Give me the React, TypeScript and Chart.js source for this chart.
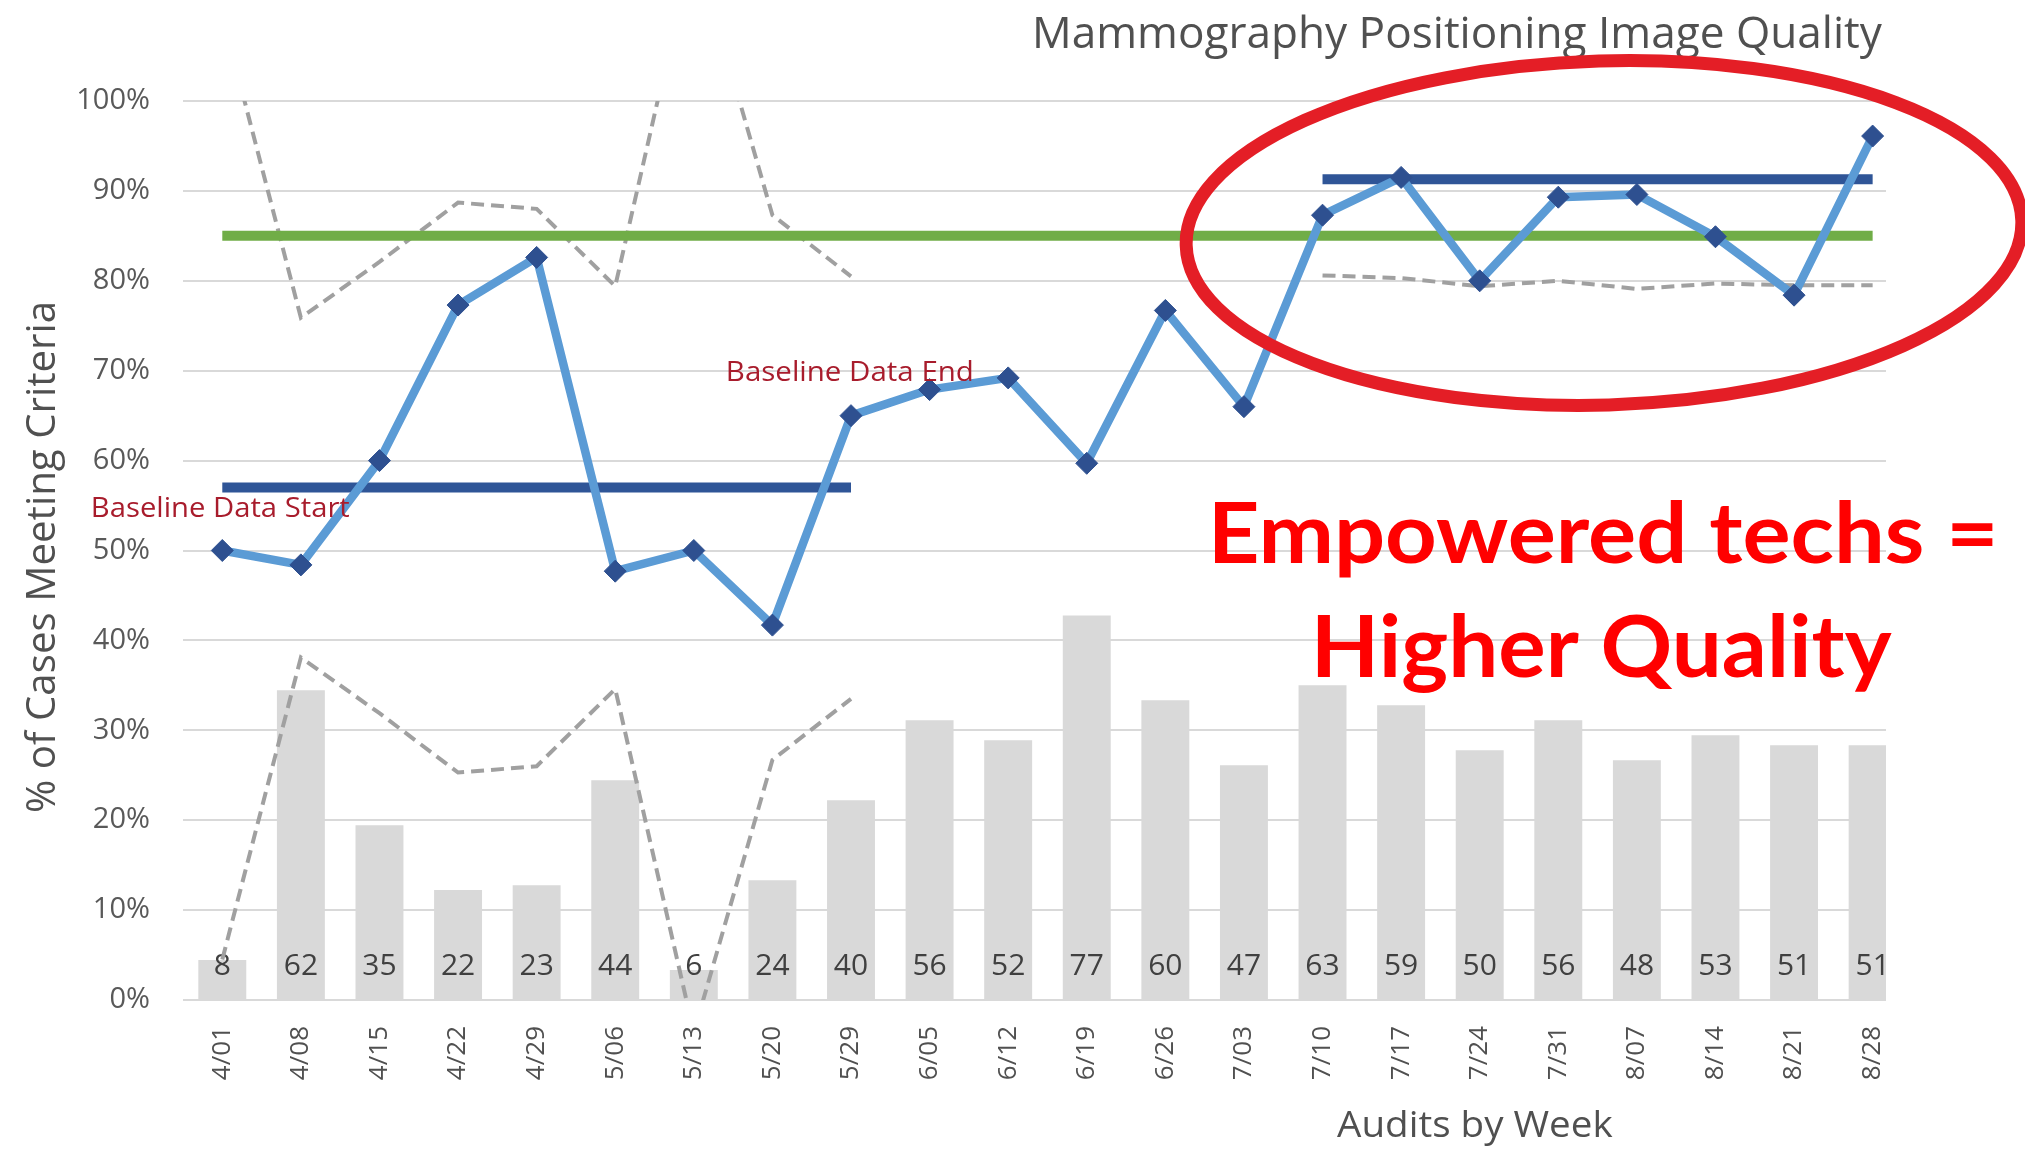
import React, { useEffect, useRef } from "react";
import { Chart, registerables } from "chart.js";

Chart.register(...registerables);

// ---------- data ----------
const weeks = ["4/01", "4/08", "4/15", "4/22", "4/29", "5/06", "5/13", "5/20", "5/29", "6/05", "6/12", "6/19", "6/26", "7/03", "7/10", "7/17", "7/24", "7/31", "8/07", "8/14", "8/21", "8/28"];
const auditCounts = [8, 62, 35, 22, 23, 44, 6, 24, 40, 56, 52, 77, 60, 47, 63, 59, 50, 56, 48, 53, 51, 51];
const pctMeeting = [50, 48.4, 60, 77.3, 82.6, 47.7, 50, 41.7, 65, 67.9, 69.2, 59.7, 76.7, 66, 87.3, 91.5, 80, 89.3, 89.6, 84.9, 78.4, 96.1];
const centerLine = [57, 57, 57, 57, 57, 57, 57, 57, 57, null, null, null, null, null, 91.3, 91.3, 91.3, 91.3, 91.3, 91.3, 91.3, 91.3];
const targetLine = [85, 85, 85, 85, 85, 85, 85, 85, 85, 85, 85, 85, 85, 85, 85, 85, 85, 85, 85, 85, 85, 85];
const upperLimit = [109.5, 75.9, 82.1, 88.7, 88.0, 79.4, 117.6, 87.3, 80.5, null, null, null, null, null, null, null, null, null, null, null, null, null];
const lowerLimit = [4.5, 38.1, 31.9, 25.3, 26.0, 34.6, -3.6, 26.7, 33.5, null, null, null, null, null, 80.6, 80.3, 79.4, 80.0, 79.1, 79.7, 79.5, 79.5];
const countAxisMax = 180;

const TITLE = "Mammography Positioning Image Quality";
const Y_TITLE = "% of Cases Meeting Criteria";
const X_TITLE = "Audits by Week";
const NOTE_START = "Baseline Data Start";
const NOTE_END = "Baseline Data End";
const CALLOUT_1 = "Empowered techs =";
const CALLOUT_2 = "Higher Quality";

const pts = (arr: (number | null)[]) => arr.map((y, i) => ({ x: i, y }));

// draw text so that its ink spans L..R along the baseline, with given cap height
function drawInk(
  ctx: CanvasRenderingContext2D,
  text: string,
  L: number,
  R: number,
  baseline: number,
  capH: number,
  family: string,
  weight: string,
  color: string
) {
  ctx.save();
  ctx.font = `${weight} 100px "${family}"`;
  const capRatio = ctx.measureText("H").actualBoundingBoxAscent / 100 || 0.72;
  const size = capH / capRatio;
  ctx.font = `${weight} ${size}px "${family}"`;
  ctx.textAlign = "left";
  ctx.textBaseline = "alphabetic";
  const m = ctx.measureText(text);
  const abl = m.actualBoundingBoxLeft || 0;
  const abr = m.actualBoundingBoxRight || m.width;
  const inkW = abl + abr;
  const sx = (R - L) / inkW;
  ctx.translate(L + abl * sx, baseline);
  ctx.scale(sx, 1);
  ctx.fillStyle = color;
  ctx.fillText(text, 0, 0);
  ctx.restore();
}

const annotationPlugin = {
  id: "annotations",
  afterDatasetDraw(chart: any, args: any) {
    if (args.meta.type !== "bar") return;
    const ctx: CanvasRenderingContext2D = chart.ctx;
    const area = chart.chartArea;
    const yScale = chart.scales.y;
    ctx.save();
    ctx.beginPath();
    ctx.rect(area.left, area.top, area.right - area.left, area.bottom - area.top);
    ctx.clip();
    ctx.fillStyle = "#404040";
    ctx.font = '30px "Open Sans"';
    ctx.textAlign = "center";
    ctx.textBaseline = "middle";
    const yLab = yScale.getPixelForValue(0) - 34;
    args.meta.data.forEach((el: any, i: number) => {
      ctx.fillText(String(auditCounts[i]), el.x, yLab);
    });
    ctx.restore();
  },
  afterDraw(chart: any) {
    const ctx: CanvasRenderingContext2D = chart.ctx;
    // chart title
    drawInk(ctx, TITLE, 1036, 1882, 48, 32, "Open Sans", "400", "#505050");
    // axis titles
    drawInk(ctx, X_TITLE, 1337, 1613, 1137, 26, "Open Sans", "400", "#505050");
    ctx.save();
    ctx.translate(55, 812);
    ctx.rotate(-Math.PI / 2);
    drawInk(ctx, Y_TITLE, 0, 508, 0, 29, "Open Sans", "400", "#505050");
    ctx.restore();
    // notes
    drawInk(ctx, NOTE_START, 93, 350, 517, 20, "Open Sans", "400", "#A81C2C");
    drawInk(ctx, NOTE_END, 728, 972, 381, 20, "Open Sans", "400", "#A81C2C");
    // callout
    drawInk(ctx, CALLOUT_1, 1214, 1993, 563, 62, "Lato", "700", "#FF0000");
    drawInk(ctx, CALLOUT_2, 1317, 1892, 677, 63, "Lato", "700", "#FF0000");
    // ellipse
    ctx.save();
    ctx.beginPath();
    ctx.ellipse(1604, 233, 418, 172, -0.03, 0, Math.PI * 2);
    ctx.strokeStyle = "#E41E26";
    ctx.lineWidth = 13;
    ctx.stroke();
    ctx.restore();
  },
};

export default function App() {
  const canvasRef = useRef<HTMLCanvasElement | null>(null);

  useEffect(() => {
    const canvas = canvasRef.current;
    if (!canvas) return;
    const tickFont = { family: "Open Sans", size: 29 };
    const chart = new Chart(canvas, {
      type: "bar",
      data: {
        datasets: [
          {
            type: "line",
            label: "% Meeting",
            data: pts(pctMeeting),
            borderColor: "#5B9BD5",
            borderWidth: 8.5,
            borderJoinStyle: "round",
            pointStyle: "rectRot",
            pointRadius: 11,
            pointBackgroundColor: "#2E5090",
            pointBorderColor: "#2E5090",
            pointBorderWidth: 1,
            tension: 0,
            order: 0,
          } as any,
          {
            type: "line",
            label: "Center",
            data: pts(centerLine),
            borderColor: "#2F5597",
            borderWidth: 10,
            pointRadius: 0,
            order: 1,
          } as any,
          {
            type: "line",
            label: "Target",
            data: pts(targetLine),
            borderColor: "#70AD47",
            borderWidth: 10,
            pointRadius: 0,
            order: 2,
          } as any,
          {
            type: "line",
            label: "UCL",
            data: pts(upperLimit),
            borderColor: "#A0A0A0",
            borderWidth: 4,
            borderDash: [13, 7],
            pointRadius: 0,
            order: 3,
          } as any,
          {
            type: "line",
            label: "LCL",
            data: pts(lowerLimit),
            borderColor: "#A0A0A0",
            borderWidth: 4,
            borderDash: [13, 7],
            pointRadius: 0,
            order: 3,
          } as any,
          {
            type: "bar",
            label: "Audits",
            data: pts(auditCounts),
            backgroundColor: "#D9D9D9",
            yAxisID: "y2",
            categoryPercentage: 1,
            barPercentage: 0.61,
            order: 5,
          } as any,
        ],
      },
      options: {
        responsive: false,
        animation: false,
        layout: { padding: { left: 0, top: 101, right: 139, bottom: 0 } },
        plugins: {
          legend: { display: false },
          tooltip: { enabled: false },
          title: { display: false },
        },
        scales: {
          x: {
            type: "linear",
            min: -0.5,
            max: 21.17,
            offset: false,
            grid: { display: false },
            border: { display: false },
            ticks: {
              stepSize: 1,
              autoSkip: false,
              includeBounds: false,
              minRotation: 90,
              maxRotation: 90,
              padding: 18,
              color: "#505050",
              font: { family: "Open Sans", size: 26 },
              callback: (v: any) => (Number.isInteger(v) && weeks[v] !== undefined ? weeks[v] : ""),
            },
            afterFit: (s: any) => {
              s.height = 151;
            },
          },
          y: {
            min: 0,
            max: 100,
            ticks: {
              stepSize: 10,
              padding: 33,
              color: "#595959",
              font: tickFont,
              callback: (v: any) => `${v}%`,
            },
            grid: { color: "#D9D9D9", lineWidth: 2, drawTicks: false },
            border: { display: false },
            afterFit: (s: any) => {
              s.width = 183;
            },
          },
          y2: { display: false, min: 0, max: countAxisMax },
        },
      } as any,
      plugins: [annotationPlugin],
    });
    return () => chart.destroy();
  }, []);

  return (
    <div style={{ position: "fixed", left: 0, top: 0, width: 2025, height: 1151, background: "#ffffff" }}>
      <canvas ref={canvasRef} width={2025} height={1151} style={{ display: "block", width: 2025, height: 1151 }} />
    </div>
  );
}
